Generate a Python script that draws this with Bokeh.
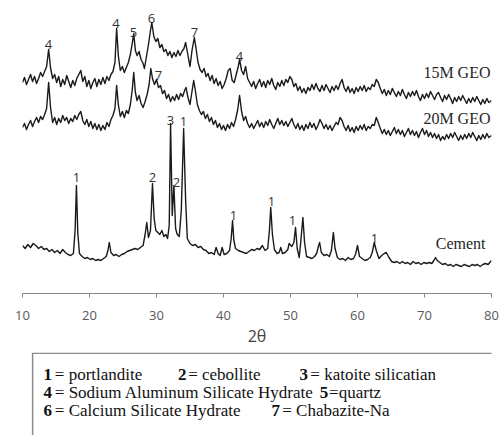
from bokeh.plotting import figure
from bokeh.models import Range1d, FixedTicker
from bokeh.layouts import column
from bokeh.core.properties import value
from bokeh.embed import file_html
from bokeh.resources import INLINE

# ---------------- data (2theta, relative intensity incl. vertical offset) ----------------
GEO_15M = [
    (10.0, 218), (10.3, 223), (10.6, 216), (10.9, 221), (11.2, 226), (11.5, 219), (11.8, 224), (12.1, 217),
    (12.4, 222), (12.7, 228), (13.0, 224), (13.3, 229), (13.6, 234), (13.9, 251), (14.2, 232), (14.5, 222),
    (14.8, 226), (15.1, 218), (15.4, 224), (15.7, 214), (16.0, 221), (16.3, 216), (16.6, 225), (16.9, 219),
    (17.2, 213), (17.5, 220), (17.8, 215), (18.1, 222), (18.4, 226), (18.7, 230), (19.0, 219), (19.3, 224),
    (19.6, 214), (19.9, 220), (20.2, 212), (20.5, 218), (20.8, 222), (21.1, 214), (21.4, 221), (21.7, 216),
    (22.0, 223), (22.3, 217), (22.6, 224), (22.9, 220), (23.2, 226), (23.5, 229), (23.8, 238), (24.05, 272),
    (24.3, 245), (24.6, 230), (24.9, 234), (25.2, 228), (25.5, 233), (25.8, 238), (26.1, 246), (26.4, 258),
    (26.6, 267), (26.85, 250), (27.1, 245), (27.4, 249), (27.7, 241), (28.0, 237), (28.2, 232), (28.5, 244),
    (28.8, 256), (29.1, 270), (29.3, 278), (29.6, 264), (29.9, 259), (30.2, 262), (30.5, 253), (30.8, 256),
    (31.1, 249), (31.4, 251), (31.7, 245), (32.0, 249), (32.3, 243), (32.6, 248), (32.9, 244), (33.2, 250),
    (33.5, 245), (33.8, 249), (34.1, 252), (34.35, 258), (34.7, 245), (35.0, 234), (35.3, 250), (35.65, 263),
    (35.9, 252), (36.2, 238), (36.5, 231), (36.8, 228), (37.1, 232), (37.4, 224), (37.7, 227), (38.0, 220),
    (38.3, 225), (38.6, 217), (38.9, 222), (39.2, 215), (39.5, 219), (39.8, 212), (40.1, 216), (40.4, 222),
    (40.7, 230), (41.0, 232), (41.3, 220), (41.6, 218), (41.9, 226), (42.2, 234), (42.4, 241), (42.7, 230),
    (43.0, 226), (43.3, 234), (43.6, 222), (43.9, 218), (44.2, 214), (44.5, 219), (44.8, 212), (45.1, 217),
    (45.4, 221), (45.7, 214), (46.0, 219), (46.3, 213), (46.6, 220), (46.9, 216), (47.2, 222), (47.5, 215),
    (47.8, 211), (48.1, 218), (48.4, 214), (48.7, 220), (49.0, 215), (49.3, 221), (49.6, 218), (49.9, 224),
    (50.2, 221), (50.5, 214), (50.8, 217), (51.1, 210), (51.4, 214), (51.7, 208), (52.0, 212), (52.3, 207),
    (52.6, 213), (52.9, 210), (53.2, 216), (53.5, 211), (53.8, 217), (54.1, 212), (54.4, 209), (54.7, 215),
    (55.0, 210), (55.3, 216), (55.6, 212), (55.9, 208), (56.2, 214), (56.5, 210), (56.8, 215), (57.1, 211),
    (57.4, 217), (57.7, 221), (58.0, 213), (58.3, 209), (58.6, 214), (58.9, 208), (59.2, 212), (59.5, 207),
    (59.8, 213), (60.1, 209), (60.4, 214), (60.7, 210), (61.0, 215), (61.3, 209), (61.6, 213), (61.9, 211),
    (62.2, 216), (62.5, 214), (62.8, 221), (63.1, 218), (63.4, 212), (63.7, 207), (64.0, 211), (64.3, 205),
    (64.6, 210), (64.9, 206), (65.2, 212), (65.5, 208), (65.8, 204), (66.1, 209), (66.4, 205), (66.7, 211),
    (67.0, 206), (67.3, 202), (67.6, 208), (67.9, 204), (68.2, 209), (68.5, 205), (68.8, 210), (69.1, 204),
    (69.4, 200), (69.7, 206), (70.0, 202), (70.3, 207), (70.6, 203), (70.9, 209), (71.2, 205), (71.5, 201),
    (71.8, 206), (72.1, 208), (72.4, 203), (72.7, 199), (73.0, 205), (73.3, 201), (73.6, 206), (73.9, 202),
    (74.2, 197), (74.5, 203), (74.8, 199), (75.1, 204), (75.4, 200), (75.7, 205), (76.0, 201), (76.3, 197),
    (76.6, 202), (76.9, 198), (77.2, 203), (77.5, 199), (77.8, 204), (78.1, 200), (78.4, 196), (78.7, 201),
    (79.0, 197), (79.3, 202), (79.6, 198), (80.0, 200),
]

GEO_20M = [
    (10.0, 173), (10.3, 177), (10.6, 171), (10.9, 176), (11.2, 180), (11.5, 174), (11.8, 179), (12.1, 183),
    (12.4, 178), (12.7, 184), (13.0, 181), (13.3, 186), (13.6, 192), (13.9, 218), (14.2, 192), (14.5, 178),
    (14.8, 183), (15.1, 176), (15.4, 182), (15.7, 178), (16.0, 185), (16.3, 180), (16.6, 183), (16.9, 177),
    (17.2, 182), (17.5, 179), (17.8, 185), (18.1, 181), (18.4, 186), (18.7, 189), (19.0, 180), (19.3, 176),
    (19.6, 181), (19.9, 174), (20.2, 179), (20.5, 172), (20.8, 177), (21.1, 171), (21.4, 176), (21.7, 170),
    (22.0, 175), (22.3, 171), (22.6, 178), (22.9, 174), (23.2, 181), (23.5, 185), (23.8, 192), (24.05, 215),
    (24.3, 196), (24.6, 184), (24.9, 189), (25.2, 183), (25.5, 190), (25.8, 187), (26.1, 196), (26.4, 212),
    (26.6, 228), (26.85, 208), (27.1, 200), (27.4, 205), (27.7, 197), (28.0, 193), (28.3, 199), (28.6, 206),
    (28.9, 216), (29.15, 232), (29.4, 222), (29.7, 216), (30.0, 221), (30.3, 213), (30.6, 215), (30.9, 207),
    (31.2, 210), (31.5, 202), (31.8, 206), (32.1, 199), (32.4, 204), (32.7, 200), (33.0, 206), (33.3, 201),
    (33.6, 207), (33.9, 204), (34.2, 210), (34.4, 213), (34.7, 203), (35.0, 196), (35.25, 207), (35.55, 220),
    (35.8, 210), (36.1, 196), (36.4, 190), (36.7, 186), (37.0, 189), (37.3, 182), (37.6, 186), (37.9, 179),
    (38.2, 183), (38.5, 176), (38.8, 180), (39.1, 173), (39.4, 177), (39.7, 171), (40.0, 175), (40.3, 170),
    (40.6, 176), (40.9, 172), (41.2, 178), (41.5, 174), (41.8, 181), (42.1, 190), (42.4, 205), (42.7, 189),
    (43.0, 180), (43.3, 184), (43.6, 177), (43.9, 173), (44.2, 177), (44.5, 172), (44.8, 176), (45.1, 180),
    (45.4, 174), (45.7, 178), (46.0, 173), (46.3, 179), (46.6, 175), (46.9, 181), (47.2, 176), (47.5, 172),
    (47.8, 177), (48.1, 182), (48.4, 176), (48.7, 180), (49.0, 175), (49.3, 179), (49.6, 174), (49.9, 178),
    (50.2, 182), (50.5, 176), (50.8, 172), (51.1, 177), (51.4, 171), (51.7, 175), (52.0, 170), (52.3, 176),
    (52.6, 172), (52.9, 178), (53.2, 173), (53.5, 177), (53.8, 171), (54.1, 175), (54.4, 181), (54.7, 177),
    (55.0, 172), (55.3, 176), (55.6, 171), (55.9, 175), (56.2, 170), (56.5, 174), (56.8, 178), (57.1, 176),
    (57.4, 183), (57.7, 180), (58.0, 174), (58.3, 170), (58.6, 175), (58.9, 169), (59.2, 173), (59.5, 168),
    (59.8, 174), (60.1, 170), (60.4, 175), (60.7, 171), (61.0, 176), (61.3, 170), (61.6, 174), (61.9, 172),
    (62.2, 176), (62.5, 175), (62.8, 183), (63.1, 178), (63.4, 172), (63.7, 167), (64.0, 171), (64.3, 166),
    (64.6, 170), (64.9, 165), (65.2, 169), (65.5, 173), (65.8, 167), (66.1, 171), (66.4, 166), (66.7, 170),
    (67.0, 164), (67.3, 168), (67.6, 172), (67.9, 166), (68.2, 170), (68.5, 165), (68.8, 169), (69.1, 163),
    (69.4, 168), (69.7, 172), (70.0, 166), (70.3, 170), (70.6, 164), (70.9, 168), (71.2, 163), (71.5, 167),
    (71.8, 162), (72.1, 166), (72.4, 160), (72.7, 164), (73.0, 161), (73.3, 166), (73.6, 162), (73.9, 167),
    (74.2, 163), (74.5, 168), (74.8, 164), (75.1, 160), (75.4, 165), (75.7, 161), (76.0, 166), (76.3, 162),
    (76.6, 167), (76.9, 163), (77.2, 168), (77.5, 164), (77.8, 160), (78.1, 165), (78.4, 161), (78.7, 166),
    (79.0, 162), (79.3, 167), (79.6, 163), (80.0, 165),
]

CEMENT = [
    (10.0, 55), (10.4, 52), (10.8, 56), (11.2, 53), (11.6, 57), (12.0, 55), (12.4, 52), (12.8, 54),
    (13.2, 51), (13.6, 52), (14.0, 49), (14.4, 51), (14.8, 48), (15.2, 50), (15.6, 47), (16.0, 51),
    (16.4, 48), (16.8, 46), (17.2, 45), (17.6, 47), (17.85, 70), (18.05, 115), (18.25, 68), (18.5, 47),
    (18.9, 44), (19.3, 42), (19.7, 43), (20.1, 41), (20.5, 42), (20.9, 40), (21.3, 41), (21.7, 40),
    (22.1, 42), (22.5, 44), (22.75, 50), (22.95, 58), (23.2, 48), (23.6, 45), (24.0, 46), (24.4, 44),
    (24.8, 46), (25.2, 47), (25.6, 49), (26.0, 50), (26.4, 51), (26.8, 52), (27.2, 51), (27.6, 53),
    (28.0, 55), (28.3, 66), (28.55, 78), (28.8, 63), (29.1, 70), (29.4, 117), (29.65, 82), (29.9, 70),
    (30.2, 68), (30.5, 66), (30.8, 70), (31.1, 64), (31.4, 66), (31.65, 62), (31.9, 75), (32.1, 177),
    (32.35, 85), (32.6, 115), (32.85, 72), (33.1, 66), (33.4, 64), (33.7, 90), (34.05, 172), (34.35, 100),
    (34.6, 62), (35.0, 57), (35.4, 55), (35.8, 56), (36.2, 53), (36.6, 54), (37.0, 51), (37.4, 50),
    (37.8, 47), (38.2, 48), (38.6, 46), (38.9, 53), (39.2, 47), (39.5, 45), (39.8, 53), (40.1, 46),
    (40.5, 47), (40.9, 50), (41.15, 62), (41.35, 80), (41.55, 60), (41.8, 52), (42.2, 50), (42.6, 49),
    (43.0, 48), (43.4, 47), (43.8, 49), (44.2, 51), (44.6, 50), (45.0, 52), (45.4, 51), (45.8, 55),
    (46.2, 50), (46.6, 52), (46.85, 70), (47.05, 93), (47.3, 66), (47.6, 51), (48.0, 47), (48.3, 48),
    (48.55, 53), (48.8, 47), (49.2, 48), (49.6, 51), (49.8, 57), (50.2, 54), (50.5, 58), (50.75, 73),
    (51.0, 52), (51.3, 43), (51.55, 60), (51.85, 83), (52.1, 58), (52.4, 44), (52.8, 43), (53.2, 42),
    (53.6, 44), (53.9, 47), (54.2, 55), (54.35, 58), (54.6, 48), (55.0, 45), (55.4, 46), (55.8, 44),
    (56.1, 50), (56.4, 68), (56.65, 52), (57.0, 43), (57.4, 41), (57.8, 42), (58.2, 40), (58.6, 43),
    (59.0, 41), (59.4, 42), (59.7, 46), (60.0, 55), (60.3, 44), (60.7, 42), (61.1, 40), (61.5, 41),
    (61.9, 43), (62.2, 48), (62.5, 58), (62.8, 50), (63.2, 42), (63.6, 45), (64.0, 47), (64.3, 48),
    (64.7, 43), (65.1, 39), (65.5, 38), (65.9, 39), (66.3, 37), (66.7, 39), (67.1, 37), (67.5, 38),
    (67.9, 36), (68.3, 39), (68.7, 37), (69.1, 38), (69.5, 36), (69.9, 38), (70.3, 37), (70.7, 38),
    (71.1, 37), (71.4, 40), (71.65, 43), (71.9, 40), (72.3, 38), (72.7, 36), (73.1, 37), (73.5, 35),
    (73.9, 36), (74.3, 34), (74.7, 36), (75.1, 35), (75.5, 34), (75.9, 36), (76.3, 35), (76.7, 34),
    (77.1, 36), (77.5, 35), (77.9, 36), (78.3, 34), (78.7, 36), (79.1, 37), (79.5, 36), (80.0, 40),
]

# series names and their label anchor (right end, baseline)
SERIES_NAMES = ["15M GEO", "20M GEO", "Cement"]
SERIES_LABEL_X = [79.85, 79.85, 79.1]
SERIES_LABEL_Y = [228, 182, 57]

# phase-number annotations above peaks (anchor = text baseline)
PEAK_TEXT = ["4", "4", "5", "6", "7", "4", "7", "3", "1", "1", "2", "2", "1", "1", "1", "1"]
PEAK_X = [13.88, 23.96, 26.57, 29.25, 35.67, 42.39, 30.30, 32.09, 34.03, 18.06, 29.40, 32.99, 41.49, 47.16, 50.30, 62.54]
PEAK_Y = [256.4, 277.4, 267.9, 282.4, 267.9, 244.4, 225.4, 180.4, 179.4, 123.4, 123.4, 118.4, 85.4, 99.4, 80.4, 62.4]

X_TICKS = [10, 20, 30, 40, 50, 60, 70, 80]
X_LABEL = "2θ"

# key box
KEY_NUM = ["1", "2", "3", "4", "5", "6", "7"]
KEY_TEXT = ["= portlandite", "=  cebollite", "= katoite silicatian",
            "= Sodium Aluminum Silicate Hydrate", "=quartz",
            "= Calcium Silicate Hydrate", "= Chabazite-Na"]
KEY_ROW = [0, 0, 0, 1, 1, 2, 2]
KEY_NUM_X = [22.5, 166, 296, 22.5, 317.5, 22.5, 266]
KEY_TEXT_X = [34.5, 177, 307.5, 34.5, 327.5, 34.5, 277.5]
ROW_Y = [61, 43.3, 25]

# ---------------- main plot ----------------
p = figure(width=501, height=352, x_range=Range1d(10, 80), y_range=Range1d(7, 300),
           y_axis_location=None, toolbar_location=None, output_backend="svg",
           min_border_left=22, min_border_right=10, min_border_top=0, min_border_bottom=59)
p.outline_line_color = None
p.xgrid.visible = False
p.ygrid.visible = False
p.background_fill_color = "white"
p.border_fill_color = "white"

for data in (GEO_15M, GEO_20M, CEMENT):
    xs = [d[0] for d in data]
    ys = [d[1] for d in data]
    p.line(xs, ys, line_color="#1a1a1a", line_width=1.4, line_join="round")

p.text(x=SERIES_LABEL_X, y=SERIES_LABEL_Y, text=SERIES_NAMES,
       text_font=value("Liberation Serif"), text_font_size="16px",
       text_align="right", text_baseline="alphabetic", text_color="#262626")

p.text(x=PEAK_X, y=PEAK_Y, text=PEAK_TEXT,
       text_font=value("Open Sans"), text_font_size="13px",
       text_align="center", text_baseline="alphabetic", text_color="#333333")

ax = p.xaxis[0]
ax.ticker = FixedTicker(ticks=X_TICKS)
ax.axis_line_color = "#868686"
ax.major_tick_line_color = "#868686"
ax.minor_tick_line_color = None
ax.major_tick_in = 0
ax.major_tick_out = 4
ax.major_label_standoff = 13
ax.major_label_text_font = "Open Sans"
ax.major_label_text_font_size = "13px"
ax.major_label_text_color = "#595959"
ax.axis_label = X_LABEL
ax.axis_label_text_font = "Open Sans"
ax.axis_label_text_font_style = "normal"
ax.axis_label_text_font_size = "16px"
ax.axis_label_text_color = "#404040"
ax.axis_label_standoff = 2

# ---------------- key box ----------------
k = figure(width=501, height=83, x_range=Range1d(0, 501), y_range=Range1d(0, 83),
           x_axis_location=None, y_axis_location=None, toolbar_location=None,
           output_backend="svg", min_border=0)
k.outline_line_color = None
k.xgrid.visible = False
k.ygrid.visible = False
k.quad(left=[10.8], right=[900], top=[82.3], bottom=[-100], fill_color=None,
       line_color="#8a8a8a", line_width=1.5)
row_y = [ROW_Y[r] for r in KEY_ROW]
k.text(x=KEY_NUM_X, y=row_y, text=KEY_NUM, text_font=value("Liberation Serif"),
       text_font_size="17px", text_font_style="bold", text_baseline="alphabetic",
       text_color="#111111")
k.text(x=KEY_TEXT_X, y=row_y, text=KEY_TEXT, text_font=value("Liberation Serif"),
       text_font_size="17px", text_baseline="alphabetic", text_color="#111111")

layout = column(p, k, spacing=0)
open("out.html", "w").write(file_html(layout, INLINE))
